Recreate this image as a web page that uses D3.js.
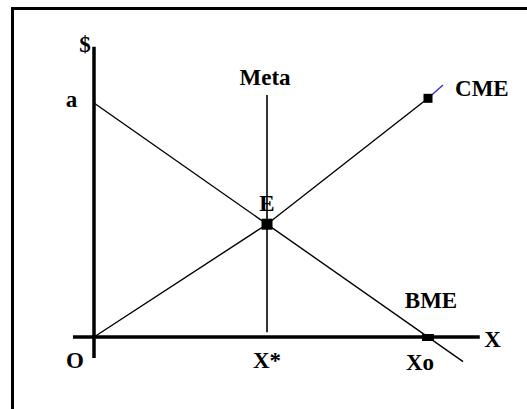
<!DOCTYPE html>
<html>
<head>
<meta charset="utf-8">
<script src="https://cdn.jsdelivr.net/npm/d3@7"></script>
<style>
  html, body { margin: 0; padding: 0; background: #fff; overflow: hidden; }
  svg { display: block; }
  text { font-family: "Liberation Serif", "Times New Roman", serif; font-weight: bold; fill: #000; }
</style>
</head>
<body>
<svg id="chart" width="527" height="409"></svg>
<script>
// ---- data (model units) ----
const interceptA = 10;          // "a" on the $ axis
const xZero = 10;               // Xo, where BME meets the X axis
const xStar = 5.18;             // X*
const bmeLine = [[0, 10], [11.05, -1.05]];              // BME: from a down past Xo
const cmeLine = [[0, 0], [5.18, 4.82], [10.0, 10.2]];    // CME: from O through E
const cmeTail = [[10.0, 10.2], [10.45, 10.77]];           // blue continuation
const metaLine = [[5.18, 0.2], [5.18, 10.34]];           // Meta vertical
const pointE = [5.18, 4.82];
const pointCME = [10.0, 10.2];
const pointXo = [10, 0];
const axisLabels = ["$", "a", "O", "X*", "Xo", "X"];
const curveLabels = ["Meta", "E", "CME", "BME"];

// ---- scales ----
const x = d3.scaleLinear().domain([0, 10]).range([94, 428]);
const y = d3.scaleLinear().domain([0, 10]).range([337, 103]);

const svg = d3.select("#chart");

// frame (top and left edges visible)
svg.append("line").attr("x1", 11).attr("x2", 527).attr("y1", 8.5).attr("y2", 8.5)
  .attr("stroke", "#000").attr("stroke-width", 3);
svg.append("line").attr("x1", 12.5).attr("x2", 12.5).attr("y1", 7).attr("y2", 409)
  .attr("stroke", "#000").attr("stroke-width", 3);

const line = d3.line().x(d => x(d[0])).y(d => y(d[1]));

// axes
svg.append("line").attr("x1", x(-0.63)).attr("x2", x(11.55)).attr("y1", y(0)).attr("y2", y(0))
  .attr("stroke", "#000").attr("stroke-width", 3.5);
svg.append("line").attr("x1", x(0)).attr("x2", x(0)).attr("y1", y(-0.9)).attr("y2", y(12.4))
  .attr("stroke", "#000").attr("stroke-width", 3.5);

// curves
svg.append("path").attr("d", line(bmeLine)).attr("fill", "none").attr("stroke", "#000").attr("stroke-width", 1.4);
svg.append("path").attr("d", line(cmeLine)).attr("fill", "none").attr("stroke", "#000").attr("stroke-width", 1.4);
svg.append("path").attr("d", line(cmeTail)).attr("fill", "none").attr("stroke", "#3333cc").attr("stroke-width", 1.4);
svg.append("path").attr("d", line(metaLine)).attr("fill", "none").attr("stroke", "#000").attr("stroke-width", 1.6);

// point markers
function square(p, s) {
  svg.append("rect").attr("x", x(p[0]) - s / 2).attr("y", y(p[1]) - s / 2)
    .attr("width", s).attr("height", s).attr("fill", "#000");
}
square(pointE, 11);
square(pointCME, 9);
svg.append("rect").attr("x", x(pointXo[0]) - 6).attr("y", y(pointXo[1]) - 3)
  .attr("width", 12).attr("height", 7).attr("fill", "#000");

// labels
const fs = 23;
function label(t, px, py, anchor) {
  svg.append("text").attr("x", px).attr("y", py).attr("text-anchor", anchor || "middle")
    .attr("font-size", fs).text(t);
}
label(axisLabels[0], x(-0.27), y(12.2));
label(axisLabels[1], x(-0.67), y(9.83));
label(axisLabels[2], x(-0.57), y(-1.32));
label(axisLabels[3], x(xStar), y(-1.32));
label(axisLabels[4], x(xZero) - 8, y(-1.41));
label(axisLabels[5], x(11.93), y(-0.43));
label(curveLabels[0], x(xStar) - 2, y(10.77));
label(curveLabels[1], x(pointE[0]), y(5.4));
label(curveLabels[2], x(10.81), y(10.3), "start");
label(curveLabels[3], x(10.09), y(1.24));
</script>
</body>
</html>
